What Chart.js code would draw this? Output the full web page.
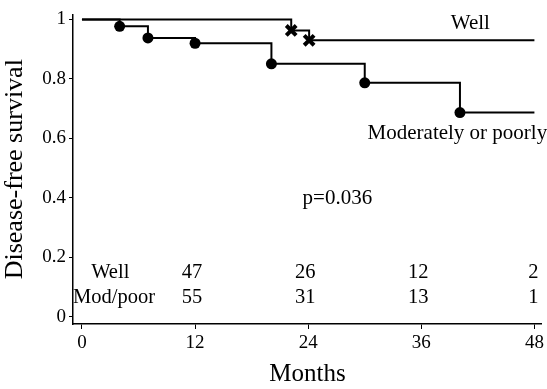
<!DOCTYPE html>
<html>
<head>
<meta charset="utf-8">
<script src="https://cdn.jsdelivr.net/npm/chart.js@4.4.1/dist/chart.umd.min.js"></script>
<style>
html,body{margin:0;padding:0;background:#fff;}
#wrap{width:547px;height:389px;position:relative;}
</style>
</head>
<body>
<div id="wrap"><canvas id="c" width="547" height="389"></canvas></div>
<script>
// Kaplan-Meier step data (months, survival)
const wellTimes = [0, 22.2, 24.1, 48];
const wellSurv  = [1, 0.963, 0.93, 0.93];
const wellEventTimes = [22.2, 24.1];
const wellEventSurv  = [0.963, 0.93];

const modTimes = [0, 4.0, 7.0, 12.0, 20.1, 30.0, 40.1, 48];
const modSurv  = [1, 0.977, 0.938, 0.92, 0.851, 0.787, 0.687, 0.687];
const modEventTimes = [4.0, 7.0, 12.0, 20.1, 30.0, 40.1];
const modEventSurv  = [0.977, 0.938, 0.92, 0.851, 0.787, 0.687];

const xTicks = [0, 12, 24, 36, 48];
const yTicks = [0, 0.2, 0.4, 0.6, 0.8, 1];

// number-at-risk table
const riskTimes = [12, 24, 36, 48];
const riskWell = [47, 26, 12, 2];
const riskMod  = [55, 31, 13, 1];
const riskLabels = ['Well', 'Mod/poor'];

const pValueText = 'p=0.036';
const curveLabels = ['Well', 'Moderately or poorly'];

const toXY = (xs, ys) => xs.map((x, i) => ({x: x, y: ys[i]}));
const FONT = "'Liberation Serif', 'Times New Roman', serif";

const textPlugin = {
  id: 'texts',
  afterDraw(chart) {
    const ctx = chart.ctx;
    const xs = chart.scales.x, ys = chart.scales.y;
    ctx.save();
    ctx.fillStyle = '#000';
    ctx.textBaseline = 'middle';
    ctx.font = '21px ' + FONT;
    // curve labels
    ctx.textAlign = 'center';
    ctx.fillText(curveLabels[0], xs.getPixelForValue(41.2), ys.getPixelForValue(0.985));
    ctx.textAlign = 'left';
    ctx.fillText(curveLabels[1], xs.getPixelForValue(30.3), ys.getPixelForValue(0.615));
    // p value
    ctx.textAlign = 'center';
    ctx.fillText(pValueText, xs.getPixelForValue(27.1), ys.getPixelForValue(0.398));
    // risk table
    ctx.font = '20.5px ' + FONT;
    const rowY = [ys.getPixelForValue(0.15), ys.getPixelForValue(0.064)];
    ctx.textAlign = 'center';
    ctx.fillText(riskLabels[0], xs.getPixelForValue(3.0), rowY[0]);
    ctx.textAlign = 'left';
    ctx.fillText(riskLabels[1], xs.getPixelForValue(-0.95), rowY[1]);
    ctx.textAlign = 'center';
    riskTimes.forEach((t, i) => {
      const px = xs.getPixelForValue(t) - (t === 48 ? 1 : 3);
      ctx.fillText(String(riskWell[i]), px, rowY[0]);
      ctx.fillText(String(riskMod[i]), px, rowY[1]);
    });
    ctx.restore();
  }
};

new Chart(document.getElementById('c'), {
  type: 'scatter',
  data: {
    datasets: [
      {
        label: 'Well', data: toXY(wellTimes, wellSurv), showLine: true, stepped: 'before',
        borderColor: '#000', borderWidth: 2, pointRadius: 0, fill: false
      },
      {
        label: 'Moderately or poorly', data: toXY(modTimes, modSurv), showLine: true, stepped: 'before',
        borderColor: '#000', borderWidth: 2, pointRadius: 0, fill: false
      },
      {
        label: 'Well events', data: toXY(wellEventTimes, wellEventSurv), showLine: false,
        pointStyle: 'crossRot', pointRadius: 7, borderColor: '#000', borderWidth: 4,
        backgroundColor: '#000'
      },
      {
        label: 'Mod events', data: toXY(modEventTimes, modEventSurv), showLine: false,
        pointStyle: 'circle', pointRadius: 5.5, borderColor: '#000', borderWidth: 0,
        backgroundColor: '#000'
      }
    ]
  },
  options: {
    responsive: false,
    animation: false,
    events: [],
    layout: { autoPadding: false, padding: { top: 13, right: 5, left: 0, bottom: 0 } },
    plugins: { legend: { display: false }, tooltip: { enabled: false } },
    scales: {
      x: {
        type: 'linear', min: -0.95, max: 48.8,
        afterBuildTicks: s => { s.ticks = xTicks.map(v => ({value: v})); },
        afterFit: s => { s.height = 65; },
        grid: { display: true, drawOnChartArea: false, drawTicks: true, tickLength: 5, color: '#000', lineWidth: 1 },
        border: { display: true, color: '#000', width: 1.5 },
        ticks: { color: '#000', font: { family: FONT, size: 19 }, padding: 3, maxRotation: 0 },
        title: { display: true, text: 'Months', color: '#000', font: { family: FONT, size: 25 }, padding: { top: 3, bottom: 0 } }
      },
      y: {
        type: 'linear', min: -0.024, max: 1.017,
        afterBuildTicks: s => { s.ticks = yTicks.map(v => ({value: v})); },
        afterFit: s => { s.width = 73; },
        grid: { display: true, drawOnChartArea: false, drawTicks: true, tickLength: 4, color: '#000', lineWidth: 1 },
        border: { display: true, color: '#000', width: 1.5 },
        ticks: { color: '#000', font: { family: FONT, size: 19 }, padding: 3,
                 callback: v => String(Math.round(v * 10) / 10) },
        title: { display: true, text: 'Disease-free survival', color: '#000', font: { family: FONT, size: 26 }, padding: { top: 0, bottom: 3 } }
      }
    }
  },
  plugins: [textPlugin]
});
</script>
</body>
</html>
